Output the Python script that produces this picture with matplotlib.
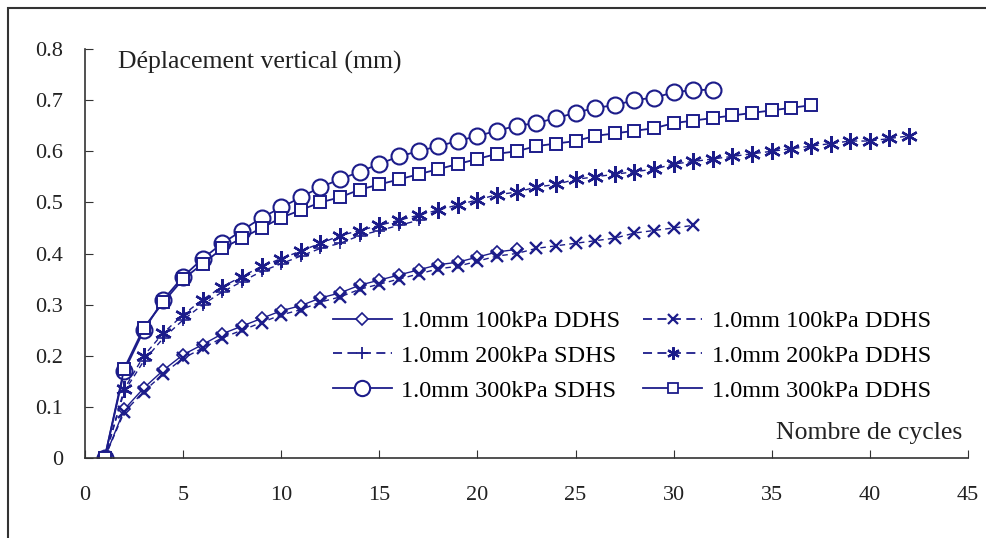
import matplotlib.pyplot as plt
from matplotlib.lines import Line2D
from matplotlib.patches import Rectangle

plt.rcParams['font.family'] = ['Liberation Serif', 'DejaVu Serif']

# cycles and vertical displacement (mm)
sdhs_100 = [0, 0.095, 0.137, 0.172, 0.202, 0.222, 0.243, 0.258, 0.273, 0.288, 0.298, 0.313,
            0.323, 0.338, 0.348, 0.358, 0.368, 0.378, 0.383, 0.393, 0.403, 0.408]
ddhs_100 = [0, 0.09, 0.13, 0.165, 0.195, 0.215, 0.235, 0.25, 0.265, 0.28, 0.29, 0.305,
            0.315, 0.33, 0.34, 0.35, 0.36, 0.37, 0.375, 0.385, 0.395, 0.40, 0.41, 0.415,
            0.42, 0.425, 0.43, 0.44, 0.445, 0.45, 0.455]
sdhs_200 = [0, 0.13, 0.19, 0.235, 0.27, 0.30, 0.325, 0.345, 0.365, 0.38, 0.395, 0.41,
            0.42, 0.435, 0.445, 0.455, 0.465]
ddhs_200 = [0, 0.135, 0.20, 0.245, 0.28, 0.31, 0.335, 0.355, 0.375, 0.39, 0.405, 0.42,
            0.435, 0.445, 0.455, 0.465, 0.475, 0.485, 0.495, 0.505, 0.515, 0.52, 0.53,
            0.535, 0.545, 0.55, 0.555, 0.56, 0.565, 0.575, 0.58, 0.585, 0.59, 0.595,
            0.60, 0.605, 0.61, 0.615, 0.62, 0.62, 0.625, 0.63]
sdhs_300 = [0, 0.17, 0.25, 0.31, 0.355, 0.39, 0.42, 0.445, 0.47, 0.49, 0.51, 0.53,
            0.545, 0.56, 0.575, 0.59, 0.60, 0.61, 0.62, 0.63, 0.64, 0.65, 0.655, 0.665,
            0.675, 0.685, 0.69, 0.70, 0.705, 0.715, 0.72, 0.72]
ddhs_300 = [0, 0.175, 0.255, 0.305, 0.35, 0.38, 0.41, 0.43, 0.45, 0.47, 0.485, 0.50,
            0.51, 0.525, 0.535, 0.545, 0.555, 0.565, 0.575, 0.585, 0.595, 0.60, 0.61,
            0.615, 0.62, 0.63, 0.635, 0.64, 0.645, 0.655, 0.66, 0.665, 0.67, 0.675,
            0.68, 0.685, 0.69]

labels = ['1.0mm 100kPa DDHS', '1.0mm 200kPa SDHS', '1.0mm 300kPa SDHS',
          '1.0mm 100kPa DDHS', '1.0mm 200kPa DDHS', '1.0mm 300kPa DDHS']

col = '#1c1c8a'
dash = (0, (4, 3))
star = (6, 2, 0)

fig = plt.figure(figsize=(9.86, 5.38), dpi=100)
ax = fig.add_axes([0.0862, 0.1487, 0.8955, 0.7602])

def cyc(v):
    return list(range(1, len(v) + 1))

ax.plot(cyc(sdhs_100), sdhs_100, color=col, marker='D', ms=6, mfc='white',
        mew=1.2, lw=1.0)
ax.plot(cyc(sdhs_200), sdhs_200, color=col, marker='+', ms=9, mew=1.2,
        lw=1.0, linestyle=dash)
ax.plot(cyc(ddhs_100), ddhs_100, color=col, marker='x', ms=9, mew=1.7,
        lw=1.0, linestyle=dash)
ax.plot(cyc(ddhs_200), ddhs_200, color=col, marker=star, ms=12, mew=1.7,
        lw=1.0, linestyle=dash)
ax.plot(cyc(sdhs_300), sdhs_300, color=col, marker='o', ms=11.5, mfc='white',
        mew=1.5, lw=1.3)
ax.plot(cyc(ddhs_300), ddhs_300, color=col, marker='s', ms=9, mfc='white',
        mew=1.4, lw=1.3)

handles = [
    Line2D([], [], color=col, marker='D', ms=6, mfc='white', mew=1.2, lw=1.3),
    Line2D([], [], color=col, marker='+', ms=9, mew=1.3, lw=1.3, linestyle=(0, (5, 3))),
    Line2D([], [], color=col, marker='o', ms=11, mfc='white', mew=1.5, lw=1.3),
    Line2D([], [], color=col, marker='x', ms=7, mew=1.6, lw=1.3, linestyle=(0, (5, 3))),
    Line2D([], [], color=col, marker=star, ms=9, mew=1.6, lw=1.3, linestyle=(0, (5, 3))),
    Line2D([], [], color=col, marker='s', ms=6.5, mfc='white', mew=1.3, lw=1.3),
]
ax.legend(handles, labels, ncol=2, frameon=False, loc='center',
          bbox_to_anchor=(0.6195, 0.2494), fontsize=17.5,
          handlelength=2.4, handletextpad=0.4, columnspacing=0.95,
          labelspacing=0.52, borderpad=0)

ax.set_xlim(0, 45)
ax.set_ylim(0, 0.8)
ax.set_xticks(range(0, 46, 5))
ax.set_yticks([0, 0.1, 0.2, 0.3, 0.4, 0.5, 0.6, 0.7, 0.8])
ax.set_yticklabels(['0', '0.1', '0.2', '0.3', '0.4', '0.5', '0.6', '0.7', '0.8'])
ax.tick_params(direction='in', length=6, labelsize=16, colors='#333333',
               labelcolor='#222222')
ax.tick_params(axis='y', pad=16)
ax.tick_params(axis='x', pad=20)
ax.spines['top'].set_visible(False)
ax.spines['right'].set_visible(False)
for s in ['left', 'bottom']:
    ax.spines[s].set_color('#333333')
    ax.spines[s].set_linewidth(1.2)

ax.text(0.0374, 0.968, 'Déplacement vertical (mm)', transform=ax.transAxes,
        fontsize=18.5, va='center', ha='left', color='#222222')
ax.text(0.993, 0.061, 'Nombre de cycles', transform=ax.transAxes,
        fontsize=18.5, va='center', ha='right', color='#222222')

fig.patches.append(Rectangle((8 / 986, -0.1), 1.2, 1.1 - 8 / 538, transform=fig.transFigure,
                             fill=False, edgecolor='#333333', lw=1.5))

fig.savefig('out.png', dpi=100)
